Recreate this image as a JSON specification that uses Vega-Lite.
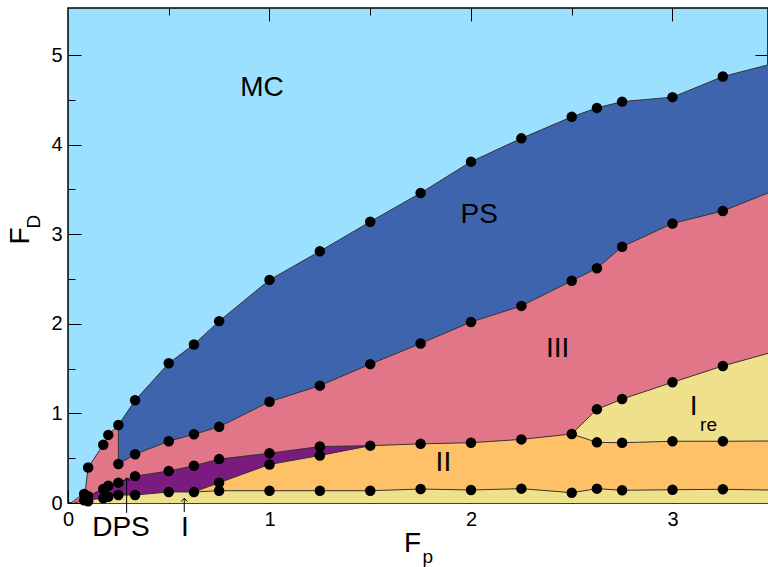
{
  "$schema": "https://vega.github.io/schema/vega-lite/v6.json",
  "width": 700,
  "height": 495,
  "autosize": "none",
  "padding": {"left": 68, "top": 8, "right": 0, "bottom": 64},
  "config": {
    "view": {"fill": "#9be0ff", "stroke": "#000", "strokeWidth": 1.5},
    "area": {"opacity": 1},
    "axis": {"grid": false, "domain": false, "title": null, "labelFont": "Liberation Sans", "labelColor": "#000", "tickColor": "#000"},
    "text": {"font": "Liberation Sans", "color": "#000"}
  },
  "datasets": {
    "ps": [
      {"x": 0.25, "y": 0.87}, {"x": 0.333, "y": 1.146}, {"x": 0.5, "y": 1.56}, {"x": 0.625, "y": 1.77},
      {"x": 0.75, "y": 2.03}, {"x": 1.0, "y": 2.49}, {"x": 1.25, "y": 2.81}, {"x": 1.5, "y": 3.14},
      {"x": 1.75, "y": 3.46}, {"x": 2.0, "y": 3.81}, {"x": 2.25, "y": 4.07}, {"x": 2.5, "y": 4.31},
      {"x": 2.625, "y": 4.41}, {"x": 2.75, "y": 4.48}, {"x": 3.0, "y": 4.53}, {"x": 3.25, "y": 4.76},
      {"x": 3.474, "y": 4.89}
    ],
    "iii": [
      {"x": 0.015, "y": 0}, {"x": 0.085, "y": 0.12}, {"x": 0.1, "y": 0.396},
      {"x": 0.175, "y": 0.65}, {"x": 0.2, "y": 0.76}, {"x": 0.25, "y": 0.87},
      {"x": 0.2501, "y": 0.435}, {"x": 0.333, "y": 0.544}, {"x": 0.5, "y": 0.69},
      {"x": 0.625, "y": 0.767}, {"x": 0.75, "y": 0.85}, {"x": 1.0, "y": 1.13},
      {"x": 1.25, "y": 1.31}, {"x": 1.5, "y": 1.55}, {"x": 1.75, "y": 1.78},
      {"x": 2.0, "y": 2.02}, {"x": 2.25, "y": 2.2}, {"x": 2.5, "y": 2.48},
      {"x": 2.625, "y": 2.62}, {"x": 2.75, "y": 2.86}, {"x": 3.0, "y": 3.12},
      {"x": 3.25, "y": 3.26}, {"x": 3.474, "y": 3.46}
    ],
    "ire": [
      {"x": 2.5, "y": 0.77}, {"x": 2.625, "y": 1.046}, {"x": 2.75, "y": 1.16}, {"x": 3.0, "y": 1.347},
      {"x": 3.25, "y": 1.53}, {"x": 3.474, "y": 1.67}
    ],
    "dps": [
      {"x": 0.08, "y": 0.05}, {"x": 0.1, "y": 0.08}, {"x": 0.175, "y": 0.156}, {"x": 0.2, "y": 0.193},
      {"x": 0.25, "y": 0.227}, {"x": 0.333, "y": 0.3}, {"x": 0.5, "y": 0.357}, {"x": 0.625, "y": 0.416},
      {"x": 0.75, "y": 0.49}, {"x": 1.0, "y": 0.555}, {"x": 1.25, "y": 0.63}, {"x": 1.5, "y": 0.64}
    ],
    "ii": [
      {"x": 0.625, "y": 0.123}, {"x": 0.75, "y": 0.227}, {"x": 1.0, "y": 0.43}, {"x": 1.25, "y": 0.53},
      {"x": 1.5, "y": 0.64}, {"x": 1.75, "y": 0.66}, {"x": 2.0, "y": 0.673}, {"x": 2.25, "y": 0.71},
      {"x": 2.5, "y": 0.77}, {"x": 2.625, "y": 0.677}, {"x": 2.75, "y": 0.673}, {"x": 3.0, "y": 0.689},
      {"x": 3.25, "y": 0.689}, {"x": 3.474, "y": 0.692}
    ],
    "i": [
      {"x": 0.03, "y": 0}, {"x": 0.08, "y": 0.03}, {"x": 0.1, "y": 0.035}, {"x": 0.175, "y": 0.052},
      {"x": 0.2, "y": 0.07}, {"x": 0.25, "y": 0.089}, {"x": 0.333, "y": 0.089}, {"x": 0.5, "y": 0.123},
      {"x": 0.625, "y": 0.123}, {"x": 0.75, "y": 0.137}, {"x": 1.0, "y": 0.137}, {"x": 1.25, "y": 0.137},
      {"x": 1.5, "y": 0.137}, {"x": 1.75, "y": 0.156}, {"x": 2.0, "y": 0.145}, {"x": 2.25, "y": 0.16},
      {"x": 2.5, "y": 0.115}, {"x": 2.625, "y": 0.16}, {"x": 2.75, "y": 0.142}, {"x": 3.0, "y": 0.148},
      {"x": 3.25, "y": 0.153}, {"x": 3.474, "y": 0.145}
    ],
    "dots": [
      {"x": 0.1, "y": 0.396}, {"x": 0.175, "y": 0.65}, {"x": 0.2, "y": 0.76}, {"x": 0.25, "y": 0.87},
      {"x": 0.333, "y": 1.146}, {"x": 0.5, "y": 1.56}, {"x": 0.625, "y": 1.77}, {"x": 0.75, "y": 2.03},
      {"x": 1.0, "y": 2.49}, {"x": 1.25, "y": 2.81}, {"x": 1.5, "y": 3.14}, {"x": 1.75, "y": 3.46},
      {"x": 2.0, "y": 3.81}, {"x": 2.25, "y": 4.07}, {"x": 2.5, "y": 4.31}, {"x": 2.625, "y": 4.41},
      {"x": 2.75, "y": 4.48}, {"x": 3.0, "y": 4.53}, {"x": 3.25, "y": 4.76},
      {"x": 0.25, "y": 0.435}, {"x": 0.333, "y": 0.544}, {"x": 0.5, "y": 0.69}, {"x": 0.625, "y": 0.767},
      {"x": 0.75, "y": 0.85}, {"x": 1.0, "y": 1.13}, {"x": 1.25, "y": 1.31}, {"x": 1.5, "y": 1.55},
      {"x": 1.75, "y": 1.78}, {"x": 2.0, "y": 2.02}, {"x": 2.25, "y": 2.2}, {"x": 2.5, "y": 2.48},
      {"x": 2.625, "y": 2.62}, {"x": 2.75, "y": 2.86}, {"x": 3.0, "y": 3.12}, {"x": 3.25, "y": 3.26},
      {"x": 2.5, "y": 0.77}, {"x": 2.625, "y": 1.046}, {"x": 2.75, "y": 1.16}, {"x": 3.0, "y": 1.347}, {"x": 3.25, "y": 1.53},
      {"x": 2.625, "y": 0.677}, {"x": 2.75, "y": 0.673}, {"x": 3.0, "y": 0.689}, {"x": 3.25, "y": 0.689},
      {"x": 1.5, "y": 0.64}, {"x": 1.75, "y": 0.66}, {"x": 2.0, "y": 0.673}, {"x": 2.25, "y": 0.71},
      {"x": 0.175, "y": 0.156}, {"x": 0.2, "y": 0.193}, {"x": 0.25, "y": 0.227}, {"x": 0.333, "y": 0.3},
      {"x": 0.5, "y": 0.357}, {"x": 0.625, "y": 0.416}, {"x": 0.75, "y": 0.49}, {"x": 1.0, "y": 0.555}, {"x": 1.25, "y": 0.63},
      {"x": 0.75, "y": 0.227}, {"x": 1.0, "y": 0.43}, {"x": 1.25, "y": 0.53},
      {"x": 0.175, "y": 0.052}, {"x": 0.2, "y": 0.07}, {"x": 0.25, "y": 0.089}, {"x": 0.333, "y": 0.089},
      {"x": 0.5, "y": 0.123}, {"x": 0.625, "y": 0.123}, {"x": 0.75, "y": 0.137}, {"x": 1.0, "y": 0.137},
      {"x": 1.25, "y": 0.137}, {"x": 1.5, "y": 0.137}, {"x": 1.75, "y": 0.156}, {"x": 2.0, "y": 0.145},
      {"x": 2.25, "y": 0.16}, {"x": 2.5, "y": 0.115}, {"x": 2.625, "y": 0.16}, {"x": 2.75, "y": 0.142},
      {"x": 3.0, "y": 0.148}, {"x": 3.25, "y": 0.153},
      {"x": 0.08, "y": 0.1}, {"x": 0.08, "y": 0.03}, {"x": 0.1, "y": 0.075}, {"x": 0.1, "y": 0.02}, {"x": 0.09, "y": 0.05}
    ],
    "labels": [
      {"t": "MC", "x": 0.963, "y": 4.63}, {"t": "PS", "x": 2.041, "y": 3.214}, {"t": "III", "x": 2.43, "y": 1.72},
      {"t": "II", "x": 1.863, "y": 0.443}, {"t": "I", "x": 3.105, "y": 1.066},
      {"t": "DPS", "x": 0.263, "y": -0.28}, {"t": "I", "x": 0.58, "y": -0.28}, {"t": "F", "x": 1.71, "y": -0.46}
    ],
    "subs": [
      {"t": "re", "x": 3.179, "y": 0.87}, {"t": "p", "x": 1.785, "y": -0.6}
    ],
    "arrows": [
      {"x": 0.291, "y": 0.28, "y2": -0.11}, {"x": 0.577, "y": 0.052, "y2": -0.1}
    ]
  },
  "resolve": {"axis": {"x": "independent", "y": "independent"}},
  "layer": [
    {
      "data": {"name": "ps"},
      "mark": {"type": "area", "color": "#3e64ae", "opacity": 1, "line": {"color": "#333", "strokeWidth": 1}},
      "encoding": {
        "x": {"field": "x", "type": "quantitative", "scale": {"domain": [0, 3.474], "nice": false, "zero": false},
              "axis": {"orient": "bottom", "values": [0, 1, 2, 3], "ticks": false, "labelFontSize": 20, "labelPadding": 6, "labelFlush": false}},
        "y": {"field": "y", "type": "quantitative", "scale": {"domain": [0, 5.525], "nice": false, "zero": false},
              "axis": {"orient": "left", "values": [0, 1, 2, 3, 4, 5], "ticks": false, "labelFontSize": 20, "labelPadding": 6, "labelFlush": false}}
      }
    },
    {
      "data": {"name": "iii"},
      "mark": {"type": "area", "color": "#e07687", "opacity": 1, "line": {"color": "#333", "strokeWidth": 1}},
      "encoding": {
        "x": {"field": "x", "type": "quantitative", "scale": {"domain": [0, 3.474], "nice": false, "zero": false},
              "axis": {"orient": "bottom", "values": [0, 1, 2, 3], "labels": false, "tickSize": -13, "tickWidth": 1}},
        "y": {"field": "y", "type": "quantitative", "scale": {"domain": [0, 5.525], "nice": false, "zero": false},
              "axis": {"orient": "left", "values": [0, 1, 2, 3, 4, 5], "labels": false, "tickSize": -13, "tickWidth": 1}}
      }
    },
    {
      "data": {"name": "ire"},
      "mark": {"type": "area", "color": "#efe08c", "opacity": 1, "line": {"color": "#333", "strokeWidth": 1}},
      "encoding": {
        "x": {"field": "x", "type": "quantitative", "scale": {"domain": [0, 3.474], "nice": false, "zero": false},
              "axis": {"orient": "bottom", "values": [0.5, 1.5, 2.5], "labels": false, "tickSize": -7, "tickWidth": 1}},
        "y": {"field": "y", "type": "quantitative", "scale": {"domain": [0, 5.525], "nice": false, "zero": false},
              "axis": {"orient": "left", "values": [0.5, 1.5, 2.5, 3.5, 4.5], "labels": false, "tickSize": -7, "tickWidth": 1}}
      }
    },
    {
      "data": {"name": "dps"},
      "mark": {"type": "area", "color": "#7b1a7f", "opacity": 1, "line": {"color": "#333", "strokeWidth": 1}},
      "encoding": {
        "x": {"field": "x", "type": "quantitative", "scale": {"domain": [0, 3.474], "nice": false, "zero": false},
              "axis": {"orient": "top", "values": [1, 2, 3], "labels": false, "tickSize": -13, "tickWidth": 1}},
        "y": {"field": "y", "type": "quantitative", "scale": {"domain": [0, 5.525], "nice": false, "zero": false},
              "axis": {"orient": "right", "values": [1, 2, 3, 4, 5], "labels": false, "tickSize": -13, "tickWidth": 1}}
      }
    },
    {
      "data": {"name": "ii"},
      "mark": {"type": "area", "color": "#ffc168", "opacity": 1, "line": {"color": "#333", "strokeWidth": 1}},
      "encoding": {
        "x": {"field": "x", "type": "quantitative", "scale": {"domain": [0, 3.474], "nice": false, "zero": false},
              "axis": {"orient": "top", "values": [0.5, 1.5, 2.5], "labels": false, "tickSize": -7, "tickWidth": 1}},
        "y": {"field": "y", "type": "quantitative", "scale": {"domain": [0, 5.525], "nice": false, "zero": false},
              "axis": {"orient": "right", "values": [0.5, 1.5, 2.5, 3.5, 4.5], "labels": false, "tickSize": -7, "tickWidth": 1}}
      }
    },
    {
      "data": {"name": "i"},
      "mark": {"type": "area", "color": "#efe08c", "opacity": 1, "line": {"color": "#333", "strokeWidth": 1}},
      "encoding": {
        "x": {"field": "x", "type": "quantitative", "scale": {"domain": [0, 3.474], "nice": false, "zero": false}, "axis": null},
        "y": {"field": "y", "type": "quantitative", "scale": {"domain": [0, 5.525], "nice": false, "zero": false}, "axis": null}
      }
    },
    {
      "data": {"name": "arrows"},
      "mark": {"type": "rule", "color": "#000", "strokeWidth": 1},
      "encoding": {
        "x": {"field": "x", "type": "quantitative", "axis": null},
        "y": {"field": "y", "type": "quantitative", "axis": null},
        "y2": {"field": "y2"}
      }
    },
    {
      "data": {"name": "arrows"},
      "mark": {"type": "point", "shape": "M-1,1L0,0L1,1", "size": 40, "filled": false, "color": "#000", "strokeWidth": 1, "opacity": 1},
      "encoding": {
        "x": {"field": "x", "type": "quantitative", "axis": null},
        "y": {"field": "y", "type": "quantitative", "axis": null}
      }
    },
    {
      "data": {"name": "dots"},
      "mark": {"type": "point", "shape": "circle", "filled": true, "color": "#000", "size": 110, "opacity": 1},
      "encoding": {
        "x": {"field": "x", "type": "quantitative", "axis": null},
        "y": {"field": "y", "type": "quantitative", "axis": null}
      }
    },
    {
      "data": {"name": "labels"},
      "mark": {"type": "text", "fontSize": 28, "align": "center", "baseline": "middle"},
      "encoding": {
        "x": {"field": "x", "type": "quantitative", "axis": null},
        "y": {"field": "y", "type": "quantitative", "axis": null},
        "text": {"field": "t"}
      }
    },
    {
      "data": {"name": "subs"},
      "mark": {"type": "text", "fontSize": 19, "align": "center", "baseline": "middle"},
      "encoding": {
        "x": {"field": "x", "type": "quantitative", "axis": null},
        "y": {"field": "y", "type": "quantitative", "axis": null},
        "text": {"field": "t"}
      }
    },
    {
      "data": {"values": [{"t": "F", "x": -0.233, "y": 2.98}]},
      "mark": {"type": "text", "fontSize": 28, "align": "center", "baseline": "middle", "angle": 270},
      "encoding": {
        "x": {"field": "x", "type": "quantitative", "axis": null},
        "y": {"field": "y", "type": "quantitative", "axis": null},
        "text": {"field": "t"}
      }
    },
    {
      "data": {"values": [{"t": "D", "x": -0.169, "y": 3.14}]},
      "mark": {"type": "text", "fontSize": 19, "align": "center", "baseline": "middle", "angle": 270},
      "encoding": {
        "x": {"field": "x", "type": "quantitative", "axis": null},
        "y": {"field": "y", "type": "quantitative", "axis": null},
        "text": {"field": "t"}
      }
    }
  ]
}
